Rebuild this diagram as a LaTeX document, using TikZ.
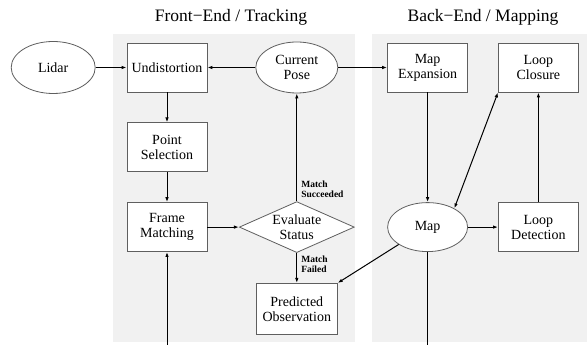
\documentclass[tikz,border=0pt]{standalone}
\usepackage{fontspec}
\setmainfont{Liberation Serif}
\usetikzlibrary{arrows.meta, positioning, shapes.geometric}
\definecolor{panelgray}{RGB}{241, 241, 241}
\definecolor{edgegray}{RGB}{95, 95, 95}
\tikzset{
    block/.style={
        rectangle,
        draw=edgegray,
        fill=white,
        line width=0.8pt,
        minimum width=80pt,
        minimum height=49pt,
        inner sep=1pt,
        align=center,
        font=\fontsize{14}{15}\selectfont
    },
    oval/.style={
        ellipse,
        draw=edgegray,
        fill=white,
        line width=0.8pt,
        minimum width=82pt,
        minimum height=51pt,
        inner sep=0pt,
        align=center,
        font=\fontsize{14}{15}\selectfont
    },
    decision/.style={
        diamond,
        aspect=2.25,
        draw=edgegray,
        fill=white,
        line width=0.8pt,
        minimum width=115pt,
        minimum height=51pt,
        inner sep=0pt,
        align=center,
        font=\fontsize{14}{15}\selectfont
    },
    flow/.style={
        -{Latex[length=5pt, width=3.5pt]},
        line width=1pt
    },
    tag/.style={
        font=\fontsize{9.5}{10}\selectfont\bfseries,
        align=left,
        inner sep=1pt
    },
    heading/.style={
        font=\fontsize{17.5}{19}\selectfont
    }
}

\begin{document}
\begin{tikzpicture}[x=1pt, y=1pt]
        \useasboundingbox (0,0) rectangle (587,345);
        \fill[panelgray] (113,3) rectangle (355,311);
        \fill[panelgray] (372,3) rectangle (587,311);

        \node[heading] (fronttitle) at (231,328) {Front−End / Tracking};
        \node[heading] (backtitle) at (483,328) {Back−End / Mapping};

        \node[block] (undist) at (167,277.5) {Undistortion};
        \node[block, below=30pt of undist] (pointsel) {Point\\Selection};
        \node[block, below=30pt of pointsel] (framematch) {Frame\\Matching};
        \node[oval, left=31pt of undist, minimum width=84pt, minimum height=52pt] (lidar) {Lidar};
        \node[oval, right=48pt of undist] (pose) {Current\\Pose};
        \node[decision] (evaluate) at (pose |- framematch) {Evaluate\\Status};
        \node[block, below=30pt of evaluate, minimum width=81pt, minimum height=51pt] (predicted) {Predicted\\Observation};

        \node[block, right=49pt of pose] (mapexp) {Map\\Expansion};
        \node[block, right=30pt of mapexp] (loopclose) {Loop\\Closure};
        \node[oval, minimum width=80pt, minimum height=49pt] (map) at (mapexp |- framematch) {Map};
        \node[block] (loopdet) at (loopclose |- framematch) {Loop\\Detection};

        \coordinate (framein) at (framematch |- 0,0);
        \coordinate (mapout) at (map |- 0,0);

        \draw[flow] (lidar.east) -- (undist.west);
        \draw[flow] (pose.west) -- (undist.east);
        \draw[flow] (pose.east) -- (mapexp.west);
        \draw[flow] (undist.south) -- (pointsel.north);
        \draw[flow] (pointsel.south) -- (framematch.north);
        \draw[flow] (framematch.east) -- (evaluate.west);
        \draw[flow] (evaluate.north) -- node[tag, pos=0, anchor=south west, xshift=3pt, yshift=2pt]{Match\\Succeeded} (pose.south);
        \draw[flow] (evaluate.south) -- node[tag, pos=0, anchor=north west, xshift=3pt, yshift=-1pt]{Match\\Failed} (predicted.north);
        \draw[flow] (framein) -- (framematch.south);

        \draw[flow] (mapexp.south) -- (map.north);
        \draw[flow] (map.211) -- (predicted.north east);
        \draw[{Latex[length=5pt, width=3.5pt]}-{Latex[length=5pt, width=3.5pt]}, line width=1pt] (map.35) -- (loopclose.south west);
        \draw[flow] (map.east) -- (loopdet.west);
        \draw[flow] (loopdet.north) -- (loopclose.south);
        \draw[line width=1pt] (map.south) -- (mapout);
    \end{tikzpicture}
\end{document}
